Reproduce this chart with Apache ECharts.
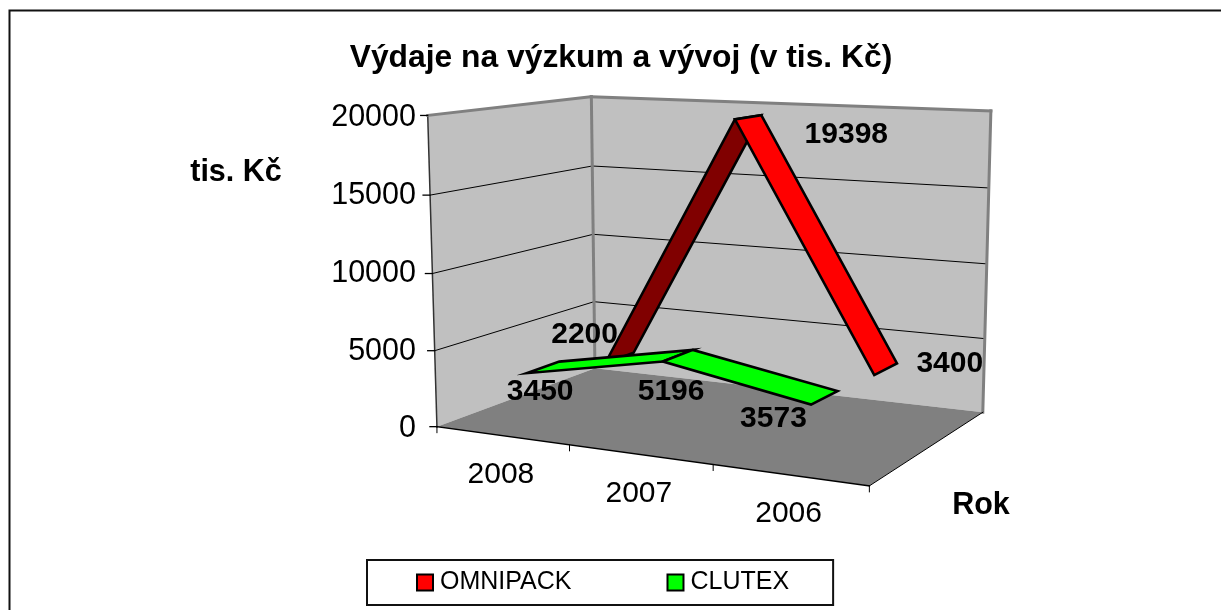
<!DOCTYPE html>
<html><head><meta charset="utf-8">
<style>html,body{margin:0;padding:0;background:#fff}#c{width:1221px;height:610px}</style>
<script src="https://cdn.jsdelivr.net/npm/echarts@6/dist/echarts.min.js"></script>
</head><body><div id="c"></div>
<script>
// ---- data ----
const categories = ['2008', '2007', '2006'];
const omnipack = [2200, 19398, 3400];
const clutex = [3450, 5196, 3573];
const yTicks = [0, 5000, 10000, 15000, 20000];
const seriesNames = ['OMNIPACK', 'CLUTEX'];

// ---- layout: where the box's corners appear on screen [u, w, v, px, py] ----
const corners = [
  [0,0,0,437,427],[1,0,0,869,486],[0,1,0,595,368],[1,1,0,983,412],
  [0,0,1,428,115],[0,1,1,591,97],[1,1,1,991,111]
];
const G = {left:428, top:118, width:560, height:311};
const FONT = '"Liberation Sans", Arial, sans-serif';
const TXT = 30;

function solve(A, b){
  const n=b.length, M=A.map((r,i)=>r.concat(b[i]));
  for(let i=0;i<n;i++){
    let p=i; for(let k=i+1;k<n;k++) if(Math.abs(M[k][i])>Math.abs(M[p][i])) p=k;
    [M[i],M[p]]=[M[p],M[i]];
    for(let k=0;k<n;k++){ if(k===i) continue; const f=M[k][i]/M[i][i];
      for(let j=i;j<=n;j++) M[k][j]-=f*M[i][j]; }
  }
  return M.map((r,i)=>r[n]/r[i]);
}
const P=(function(){
  const rows=[],rhs=[];
  corners.forEach(([u,w,v,x,y])=>{
    rows.push([u,w,v,1,0,0,0,0,-x*u,-x*w,-x*v]);rhs.push(x);
    rows.push([0,0,0,0,u,w,v,1,-y*u,-y*w,-y*v]);rhs.push(y);
  });
  const AtA=[...Array(11)].map((_,i)=>[...Array(11)].map((_,j)=>rows.reduce((s,r)=>s+r[i]*r[j],0)));
  const Atb=[...Array(11)].map((_,i)=>rows.reduce((s,r,k)=>s+r[i]*rhs[k],0));
  return solve(AtA,Atb);
})();
function project(u,w,v){
  const d=P[8]*u+P[9]*w+P[10]*v+1;
  return [(P[0]*u+P[1]*w+P[2]*v+P[3])/d,(P[4]*u+P[5]*w+P[6]*v+P[7])/d];
}
function uvw(api,cat,val){
  const p=api.coord([cat,val]);
  return [(p[0]-G.left)/G.width,(G.top+G.height-p[1])/G.height];
}
const poly=(pts,fill,z2,stroke,lw)=>({type:'polygon',z2:z2||0,shape:{points:pts},
  style:{fill:fill,stroke:stroke||null,lineWidth:lw||0,lineJoin:'miter',miterLimit:10}});
const line=(a,b,stroke,lw,z2)=>({type:'line',z2:z2||0,shape:{x1:a[0],y1:a[1],x2:b[0],y2:b[1]},
  style:{stroke:stroke,lineWidth:lw,lineCap:'square'}});
const text=(p,s,bold,z2)=>({type:'text',z2:z2||0,x:p[0],y:p[1],style:{text:s,fill:'#000',
  font:(bold?'bold ':'')+TXT+'px '+FONT,textAlign:'center',textVerticalAlign:'middle'}});

function renderBox(params,api){
  const c=[];
  c.push(poly([project(0,0,0),project(0,1,0),project(0,1,1),project(0,0,1)],'#c0c0c0'));
  c.push(poly([project(0,1,0),project(1,1,0),project(1,1,1),project(0,1,1)],'#c0c0c0'));
  c.push(poly([project(0,0,0),project(1,0,0),project(1,1,0),project(0,1,0)],'#808080',1));
  yTicks.forEach(t=>{
    const v=uvw(api,0,t)[1];
    if(t>0&&t<yTicks[yTicks.length-1]){
      c.push(line(project(0,0,v),project(0,1,v),'#000',1,2));
      c.push(line(project(0,1,v),project(1,1,v),'#000',1,2));
    }
    const a=project(0,0,v);
    c.push(line([a[0]-7,a[1]],a,'#000',1.3,4));
  });
  c.push(line(project(0,0,0),project(0,0,1),'#333',1.5,3));
  c.push(line(project(0,1,0),project(0,1,1),'#808080',3,3));
  c.push(line(project(1,1,0),project(1,1,1),'#808080',3,3));
  c.push(line(project(0,0,1),project(0,1,1),'#808080',3,3));
  c.push(line(project(0,1,1),project(1,1,1),'#808080',3,3));
  c.push(line(project(0,0,0),project(1,0,0),'#000',1.5,4));
  c.push(line(project(1,0,0),project(1,1,0),'#000',1,4));
  const n=categories.length;
  for(let i=0;i<=n;i++){
    const a=project(i/n,0,0);
    c.push(line(a,[a[0],a[1]+6],'#000',1,4));
  }
  categories.forEach((s,i)=>{
    const a=project((i+.5)/n,0,0);
    c.push(text([a[0]-1,a[1]+39],s,false,5));
  });
  return {type:'group',children:c};
}

// ribbon depth range in the floor (w), and each data label's offset from its point
const ribbons=[
  {w:[.65,.85],top:'#ff0000',under:'#800000',off:[[-35,-23],[98,17],[64,-5]]},
  {w:[.15,.35],top:'#00ff00',under:'#008000',off:[[-3,24],[-7,36],[-51,21]]}
];
function renderRibbon(r,values){
  return function(params,api){
    const i=api.value(0), c=[];
    const [u,v]=uvw(api,i,api.value(1));
    const a0=project(u,r.w[0],v), a1=project(u,r.w[1],v);
    if(i<values.length-1){
      const [u2,v2]=uvw(api,i+1,values[i+1]);
      const b0=project(u2,r.w[0],v2), b1=project(u2,r.w[1],v2);
      const d=[a1[0]-a0[0],a1[1]-a0[1]], l=[b0[0]-a0[0],b0[1]-a0[1]];
      const topVisible=d[0]*l[1]-d[1]*l[0]>0;
      c.push(poly([a0,a1,b1,b0],topVisible?r.top:r.under,i,'#000',2.6));
    }
    const m=project(u,(r.w[0]+r.w[1])/2,v);
    c.push(text([m[0]+r.off[i][0],m[1]+r.off[i][1]],String(api.value(1)),true,50));
    return {type:'group',children:c};
  };
}

const chart=echarts.init(document.getElementById('c'),null,{renderer:'canvas'});
const ttl=(t,x,y,size)=>({text:t,left:x,top:y,textAlign:'center',textVerticalAlign:'middle',
  textStyle:{fontFamily:FONT,fontWeight:'bold',fontSize:size,color:'#000'},padding:0});
chart.setOption({
  animation:false,
  backgroundColor:'#fff',
  color:['#ff0000','#00ff00'],
  title:[ttl('Výdaje na výzkum a vývoj (v tis. Kč)',621,58,31.8),ttl('tis. Kč',236,173,30.5),ttl('Rok',981,506,30.5)],
  grid:{left:G.left,top:G.top,width:G.width,height:G.height,containLabel:false,outerBoundsMode:'none'},
  xAxis:{type:'category',data:categories,show:false},
  yAxis:{type:'value',min:0,max:20000,interval:5000,
    axisLine:{show:false},axisTick:{show:false},splitLine:{show:false},
    axisLabel:{margin:12,color:'#000',fontFamily:FONT,fontSize:30.5,formatter:v=>String(v)}},
  legend:{data:seriesNames,left:367,top:560,selectedMode:false,icon:'rect',
    itemWidth:16,itemHeight:16,itemGap:95,padding:[10,44,10,49],
    backgroundColor:'#fff',borderColor:'#111',borderWidth:2,borderRadius:0,
    itemStyle:{borderColor:'#000',borderWidth:2},
    textStyle:{color:'#000',fontFamily:FONT,fontSize:25,padding:[1,0,0,2]}},
  graphic:[{type:'polyline',silent:true,shape:{points:[[9.5,610],[9.5,10.5],[1221,10.5]]},
    style:{stroke:'#111',lineWidth:2,fill:null}}],
  series:[
    {type:'custom',name:'box',silent:true,z:1,coordinateSystem:'cartesian2d',clip:false,data:[[0,0]],renderItem:renderBox},
    {type:'custom',name:seriesNames[0],silent:true,z:2,coordinateSystem:'cartesian2d',clip:false,itemStyle:{color:'#ff0000'},
      data:omnipack.map((v,i)=>[i,v]),renderItem:renderRibbon(ribbons[0],omnipack)},
    {type:'custom',name:seriesNames[1],silent:true,z:3,coordinateSystem:'cartesian2d',clip:false,itemStyle:{color:'#00ff00'},
      data:clutex.map((v,i)=>[i,v]),renderItem:renderRibbon(ribbons[1],clutex)}
  ]
});
</script></body></html>
